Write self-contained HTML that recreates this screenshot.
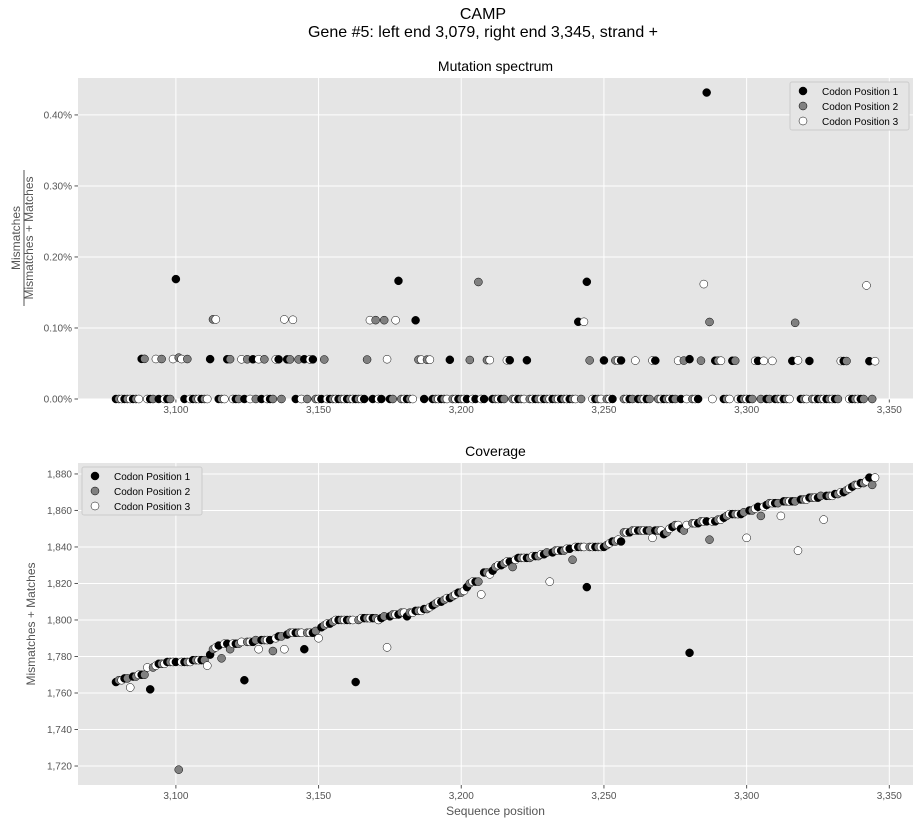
<!DOCTYPE html>
<html><head><meta charset="utf-8"><style>
body{margin:0;background:#fff;font-family:"Liberation Sans","DejaVu Sans",sans-serif}
svg text{font-family:"Liberation Sans","DejaVu Sans",sans-serif}
</style></head><body>
<svg id="fig" width="921" height="825" xmlns="http://www.w3.org/2000/svg">
<text x="483" y="19" font-size="16" text-anchor="middle" fill="#000">CAMP</text>
<text x="483" y="37" font-size="16" text-anchor="middle" fill="#000">Gene #5: left end 3,079, right end 3,345, strand +</text>
<g id="topPanel"></g>
<g id="botPanel"></g>
</svg>
<script>
const startPos = 3079;
const coverage = [
1766,1767,1767,1768,1768,1763,1769,1769,1770,1770,
1770,1774,1762,1774,1775,1776,1776,1776,1777,1777,
1777,1777,1718,1777,1777,1777,1777,1778,1778,1778,
1778,1778,1775,1781,1784,1785,1786,1779,1787,1787,
1784,1787,1787,1787,1788,1767,1788,1788,1788,1789,
1784,1789,1789,1789,1789,1783,1790,1791,1791,1784,
1792,1793,1793,1793,1793,1793,1784,1793,1793,1793,
1794,1790,1796,1797,1798,1798,1799,1800,1800,1800,
1800,1800,1800,1800,1766,1800,1801,1801,1801,1801,
1801,1801,1800,1801,1802,1785,1802,1803,1803,1803,
1804,1804,1802,1804,1804,1805,1805,1805,1806,1806,
1807,1808,1809,1810,1810,1811,1812,1812,1813,1814,
1815,1815,1816,1818,1820,1821,1821,1821,1814,1826,
1826,1825,1827,1829,1830,1830,1831,1832,1832,1829,
1833,1834,1834,1834,1834,1834,1835,1835,1835,1836,
1836,1837,1821,1837,1838,1838,1838,1838,1839,1839,
1833,1840,1840,1840,1840,1818,1840,1840,1840,1840,
1840,1840,1841,1842,1843,1843,1844,1843,1848,1848,
1848,1849,1849,1849,1849,1849,1849,1849,1845,1849,
1849,1849,1847,1848,1850,1851,1852,1852,1850,1849,
1852,1782,1853,1853,1853,1854,1854,1854,1844,1854,
1854,1855,1855,1856,1857,1858,1858,1858,1858,1858,
1859,1845,1860,1860,1861,1862,1857,1862,1863,1864,
1864,1864,1864,1857,1865,1865,1865,1865,1865,1838,
1866,1866,1866,1867,1867,1867,1867,1868,1855,1868,
1868,1868,1869,1869,1870,1870,1871,1872,1873,1874,
1874,1875,1875,1876,1878,1874,1878];
const mutPositions = [3088,3089,3093,3095,3099,3100,3101,3102,3104,3112,3113,3114,3118,3119,3123,3125,3127,3129,3131,3135,3136,3138,3139,3140,3141,3143,3145,3147,3148,3152,3167,3168,3170,3173,3174,3177,3178,3184,3185,3186,3188,3189,3196,3203,3206,3209,3210,3216,3217,3223,3241,3243,3244,3245,3250,3254,3255,3256,3261,3267,3268,3276,3278,3280,3284,3285,3286,3287,3289,3290,3291,3295,3296,3303,3304,3306,3309,3316,3317,3318,3322,3333,3334,3335,3342,3343,3345];
const mutCounts =    [1,1,1,1,1,3,1,1,1,1,2,2,1,1,1,1,1,1,1,1,1,2,1,1,2,1,1,1,1,1,1,2,2,2,1,2,3,2,1,1,1,1,1,1,3,1,1,1,1,1,2,2,3,1,1,1,1,1,1,1,1,1,1,1,1,3,8,2,1,1,1,1,1,1,1,1,1,1,2,1,1,1,1,1,3,1,1];
const xTicks = [3100,3150,3200,3250,3300,3350];
const topTicks = [0,0.1,0.2,0.3,0.4];
const botTicks = [1720,1740,1760,1780,1800,1820,1840,1860,1880];
const codonNames = ["Codon Position 1","Codon Position 2","Codon Position 3"];
const codonColors = ["#000000","#808080","#ffffff"];

const NS="http://www.w3.org/2000/svg";
function mk(parent,tag,attrs){const e=document.createElementNS(NS,tag);for(const k in attrs)e.setAttribute(k,attrs[k]);parent.appendChild(e);return e;}
const L=78,R=913;
const xMin=3065.7,xMax=3358.3;
const xs=v=>L+(v-xMin)/(xMax-xMin)*(R-L);
const fmt=v=>v.toLocaleString('en-US');

function panel(g,T,B,ys,yTicks,yFmt,title,prefix){
  const bg=mk(g,'rect',{x:L,y:T,width:R-L,height:B-T,fill:'#e5e5e5'});
  
  
  xTicks.forEach(t=>{const x=xs(t);
    mk(g,'line',{x1:x,x2:x,y1:T,y2:B,stroke:'#fff','stroke-width':1});
    mk(g,'line',{x1:x,x2:x,y1:B,y2:B+3.5,stroke:'#555'});
    const tx=mk(g,'text',{x:x,y:B+14,'font-size':10,'text-anchor':'middle',fill:'#555'});tx.textContent=fmt(t);
    
    
  });
  yTicks.forEach(t=>{const y=ys(t);
    mk(g,'line',{x1:L,x2:R,y1:y,y2:y,stroke:'#fff','stroke-width':1});
    mk(g,'line',{x1:L-3.5,x2:L,y1:y,y2:y,stroke:'#555'});
    const tx=mk(g,'text',{x:L-6,y:y+3.5,'font-size':10,'text-anchor':'end',fill:'#555'});tx.textContent=yFmt(t);
    
    
  });
  const tt=mk(g,'text',{x:(L+R)/2,y:T-7,'font-size':14,'text-anchor':'middle',fill:'#000'});tt.textContent=title;
  
  
}
function dot(g,x,y,i,name){
  const c=mk(g,'circle',{cx:x,cy:y,r:4,fill:codonColors[i],stroke:'#000','stroke-width':0.5});
  
  
}
function legend(g,x,y,w,prefix){
  const box=mk(g,'rect',{x:x,y:y,width:w,height:48,fill:'#e5e5e5',stroke:'#ccc','stroke-width':1,rx:2});
  
  
  codonNames.forEach((n,i)=>{
    dot(g,x+13,y+9+15*i,i,prefix+'-legend-marker');
    const t=mk(g,'text',{x:x+32,y:y+13+15*i,'font-size':10,fill:'#000'});t.textContent=n;
    
    
  });
}

// Top panel
const topG=document.getElementById('topPanel');
const tT=78,tB=399,tMax=0.452;
const ysT=v=>tB-v/tMax*(tB-tT);
panel(topG,tT,tB,ysT,topTicks,v=>v.toFixed(2)+'%','Mutation spectrum','mutation');
for(let i=0;i<coverage.length;i++){
  const pos=startPos+i;
  const k=mutPositions.indexOf(pos);
  const cnt=k>=0?mutCounts[k]:0;
  const pct=cnt/coverage[i]*100;
  dot(topG,xs(pos),ysT(pct),i%3,'mutation-point');
}
legend(topG,790,82,119,'mutation');
const yl=mk(topG,'g',{transform:'translate(26,238) rotate(-90)'});


let t1=mk(yl,'text',{x:0,y:-6,'font-size':12,'text-anchor':'middle',fill:'#555'});t1.textContent='Mismatches';
mk(yl,'line',{x1:-68,x2:68,y1:-2,y2:-2,stroke:'#555','stroke-width':1});
let t2=mk(yl,'text',{x:0,y:7,'font-size':12,'text-anchor':'middle',fill:'#555'});t2.textContent='Mismatches + Matches';

// Bottom panel
const botG=document.getElementById('botPanel');
const bT=463,bB=785,bMin=1709.6,bMax=1886;
const ysB=v=>bB-(v-bMin)/(bMax-bMin)*(bB-bT);
panel(botG,bT,bB,ysB,botTicks,fmt,'Coverage','coverage');
for(let i=0;i<coverage.length;i++){
  dot(botG,xs(startPos+i),ysB(coverage[i]),i%3,'coverage-point');
}
legend(botG,82,467,120,'coverage');
const yl2=mk(botG,'text',{x:0,y:0,'font-size':12,'text-anchor':'middle',fill:'#555',transform:'translate(35,624) rotate(-90)'});
yl2.textContent='Mismatches + Matches';


const xl=mk(botG,'text',{x:(L+R)/2,y:815,'font-size':12,'text-anchor':'middle',fill:'#555'});
xl.textContent='Sequence position';


</script>
</body></html>
